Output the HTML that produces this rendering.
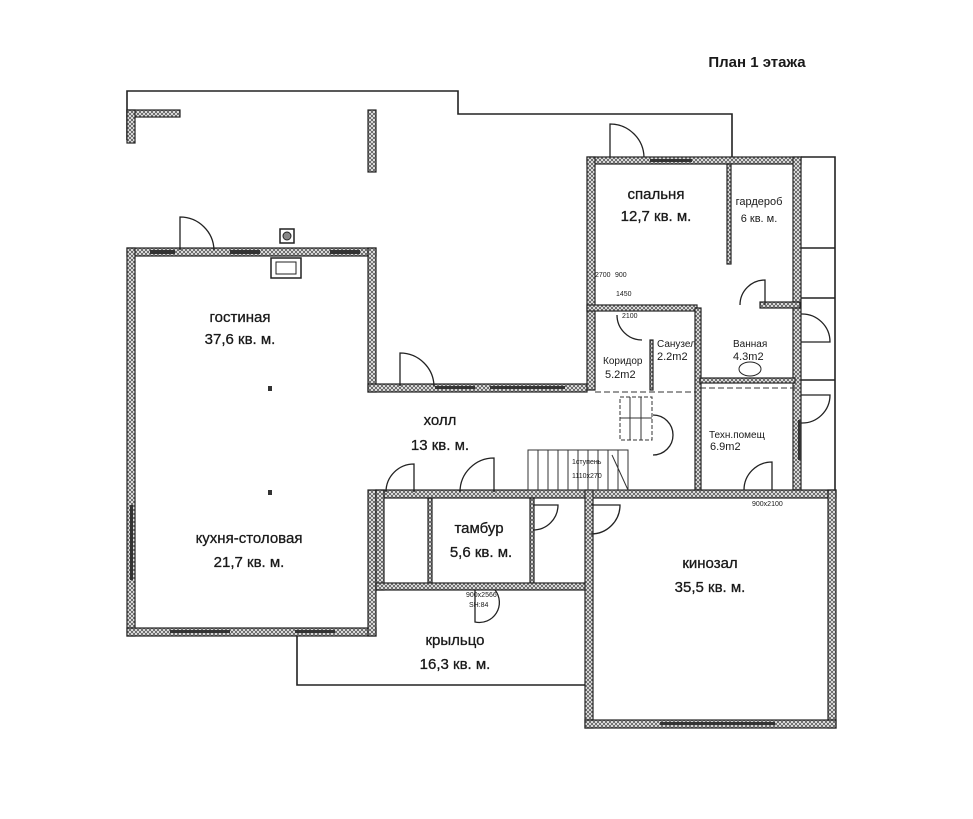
<!DOCTYPE html>
<html><head><meta charset="utf-8"><style>
html,body{margin:0;padding:0;background:#fff;}
svg{display:block}
text{font-family:"Liberation Sans","DejaVu Sans",sans-serif;fill:#1a1a1a}
</style></head><body>
<svg width="973" height="819" viewBox="0 0 973 819" xmlns="http://www.w3.org/2000/svg">
<defs>
<pattern id="h" width="4" height="4" patternUnits="userSpaceOnUse">
<rect width="4" height="4" fill="#f4f4f4"/>
<path d="M0 0L4 4M4 0L0 4" stroke="#555" stroke-width="0.8"/>
</pattern>
</defs>
<g fill="none" stroke="#222" stroke-width="1.6">
<polyline points="127,140 127,91 458,91 458,114 732,114 732,157"/>
<polyline points="297,636 297,685 585,685"/>
<polyline points="801,157 835,157 835,490"/>
<line x1="801" y1="248" x2="835" y2="248"/>
<line x1="801" y1="298" x2="835" y2="298"/>
<line x1="800" y1="380" x2="835" y2="380"/>
</g>
<g fill="url(#h)" stroke="#222" stroke-width="1.2">
<rect x="127" y="110" width="53" height="7"/>
<rect x="127" y="110" width="8" height="33"/>
<rect x="368" y="110" width="8" height="62"/>
<rect x="127" y="248" width="249" height="8"/>
<rect x="127" y="248" width="8" height="388"/>
<rect x="127" y="628" width="249" height="8"/>
<rect x="368" y="248" width="8" height="144"/>
<rect x="368" y="490" width="8" height="146"/>
<rect x="368" y="384" width="219" height="8"/>
<rect x="587" y="157" width="214" height="7"/>
<rect x="587" y="157" width="8" height="233"/>
<rect x="793" y="157" width="8" height="333"/>
<rect x="727" y="164" width="4" height="100"/>
<rect x="587" y="305" width="110" height="6"/>
<rect x="760" y="302" width="40" height="6"/>
<rect x="695" y="308" width="6" height="182"/>
<rect x="700" y="378" width="95" height="5"/>
<rect x="650" y="340" width="3" height="50"/>
<rect x="376" y="490" width="460" height="8"/>
<rect x="376" y="490" width="8" height="100"/>
<rect x="428" y="498" width="4" height="85"/>
<rect x="530" y="498" width="4" height="85"/>
<rect x="376" y="583" width="211" height="7"/>
<rect x="585" y="490" width="8" height="238"/>
<rect x="828" y="490" width="8" height="238"/>
<rect x="585" y="720" width="251" height="8"/>
</g>
<g fill="#333">
<rect x="150" y="250" width="25" height="4"/><rect x="230" y="250" width="30" height="4"/><rect x="330" y="250" width="30" height="4"/>
<rect x="650" y="159" width="42" height="3"/>
<rect x="435" y="386" width="40" height="3"/><rect x="490" y="386" width="75" height="3"/>
<rect x="130" y="505" width="3" height="75"/>
<rect x="170" y="630" width="60" height="3"/><rect x="295" y="630" width="40" height="3"/>
<rect x="660" y="722" width="115" height="3"/>
<rect x="798" y="420" width="3" height="40"/>
<rect x="268" y="386" width="4" height="5"/><rect x="268" y="490" width="4" height="5"/>
</g>
<g fill="none" stroke="#222" stroke-width="1.3">
<path d="M180 250V217A34 34 0 0 1 214 250"/>
<path d="M400 386V353A34 34 0 0 1 434 386"/>
<path d="M610 157V124A34 34 0 0 1 644 157"/>
<path d="M414 492V464A28 28 0 0 0 386 492"/>
<path d="M494 492V458A34 34 0 0 0 460 492"/>
<path d="M533 505H558A25 25 0 0 1 533 530"/>
<path d="M591 505H620A29 29 0 0 1 591 534"/>
<path d="M772 490V462A28 28 0 0 0 744 490"/>
<path d="M801 342H830A28 28 0 0 0 801 314"/>
<path d="M801 395H830A28 28 0 0 1 801 423"/>
<path d="M765 305V280A25 25 0 0 0 740 305"/>
<path d="M617 315A25 25 0 0 0 642 340"/>
<path d="M653 415A20 20 0 0 1 653 455"/>
<path d="M475 590V622A20 20 0 0 0 495 590"/>
</g>
<g fill="none" stroke="#333" stroke-width="1">
<rect x="528" y="450" width="100" height="40"/>
<path d="M538 450V490M548 450V490M558 450V490M568 450V490M578 450V490M588 450V490M598 450V490M608 450V490M618 450V490"/>
<rect x="620" y="397" width="32" height="43" stroke-dasharray="4 2"/>
<path d="M630 397V440M641 397V440M620 418H652"/>
<line x1="612" y1="455" x2="628" y2="490"/>
<line x1="595" y1="392" x2="695" y2="392" stroke-dasharray="6 3"/>
<line x1="700" y1="388" x2="795" y2="388" stroke-dasharray="6 3"/>
</g>
<rect x="280" y="229" width="14" height="14" fill="#fff" stroke="#222" stroke-width="1.5"/>
<circle cx="287" cy="236" r="4" fill="#888" stroke="#222"/>
<rect x="271" y="258" width="30" height="20" fill="#fff" stroke="#222" stroke-width="1.5"/>
<rect x="276" y="262" width="20" height="12" fill="none" stroke="#222"/>
<ellipse cx="750" cy="369" rx="11" ry="7" fill="#fff" stroke="#222"/>
<text x="757" y="67" font-size="15" font-weight="bold" text-anchor="middle">План 1 этажа</text>
<g font-size="15" text-anchor="middle" stroke="#1a1a1a" stroke-width="0.3">
<text x="240" y="322">гостиная</text><text x="240" y="344">37,6 кв. м.</text>
<text x="440" y="425">холл</text><text x="440" y="450">13 кв. м.</text>
<text x="249" y="543">кухня-столовая</text><text x="249" y="567">21,7 кв. м.</text>
<text x="479" y="533">тамбур</text><text x="481" y="557">5,6 кв. м.</text>
<text x="710" y="568">кинозал</text><text x="710" y="592">35,5 кв. м.</text>
<text x="455" y="645">крыльцо</text><text x="455" y="669">16,3 кв. м.</text>
<text x="656" y="199">спальня</text><text x="656" y="221">12,7 кв. м.</text>
</g>
<g font-size="11" text-anchor="middle">
<text x="759" y="205">гардероб</text><text x="759" y="222">6 кв. м.</text>
</g>
<g font-size="10">
<text x="603" y="364">Коридор</text><text x="605" y="378" font-size="11">5.2m2</text>
<text x="657" y="347">Санузел</text><text x="657" y="360" font-size="11">2.2m2</text>
<text x="733" y="347">Ванная</text><text x="733" y="360" font-size="11">4.3m2</text>
<text x="709" y="438">Техн.помещ</text><text x="710" y="450" font-size="11">6.9m2</text>
</g>
<g font-size="7">
<text x="595" y="277">2700</text><text x="615" y="277">900</text><text x="616" y="296">1450</text>
<text x="622" y="318">2100</text><text x="752" y="506">900x2100</text>
<text x="572" y="464">1ступень</text><text x="572" y="478">1110x270</text>
<text x="466" y="597">900x2566</text><text x="469" y="607">SH:84</text>
</g>
</svg>
</body></html>
